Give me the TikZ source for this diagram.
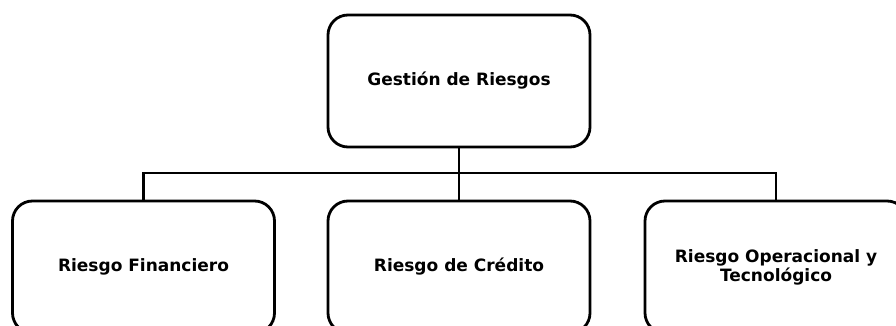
\documentclass[tikz,border=0pt]{standalone}
\usepackage{fontspec}
\setmainfont{DejaVu Sans}
\usetikzlibrary{positioning, calc}

\begin{document}
\begin{tikzpicture}[x=1pt, y=1pt, line width=2.8pt,
    riskbox/.style={draw, rounded corners=20pt, minimum width=262pt, minimum height=132pt,
        align=center, font=\fontsize{17}{19}\selectfont\bfseries}]
\useasboundingbox (0, 0) rectangle (896, 326);
\node [riskbox] (gestion) at (459, 245) {Gestión de Riesgos};
\node [riskbox] (financiero) at (143.5, 59) {Riesgo Financiero};
\node [riskbox] (credito) at (459, 59) {Riesgo de Crédito};
\node [riskbox] (operacional) at (776, 59) {Riesgo Operacional y\\Tecnológico};
\coordinate (bar) at (0, 153);
\draw (gestion.south) -- (gestion.south |- bar);
\draw (financiero.north) -- (financiero.north |- bar) -| (operacional.north);
\draw (credito.north) -- (credito.north |- bar);
\end{tikzpicture}
\end{document}
